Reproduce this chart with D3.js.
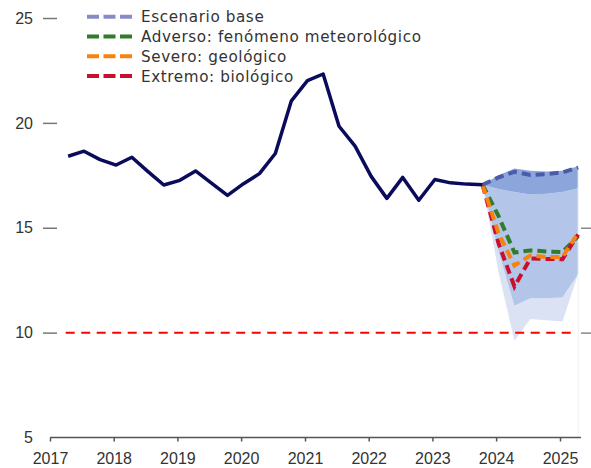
<!DOCTYPE html>
<html>
<head>
<meta charset="utf-8">
<script src="https://cdn.jsdelivr.net/npm/d3@7"></script>
<style>
  html, body { margin: 0; padding: 0; background: #fff; }
  svg { display: block; font-family: "Noto Sans", "DejaVu Sans", sans-serif; }
</style>
</head>
<body>
<svg id="chart" width="591" height="468"></svg>
<script>
// ---------- data ----------
const histDates = ["2017-04-15","2017-07-15","2017-10-15","2018-01-15","2018-04-15","2018-07-15","2018-10-15",
  "2019-01-15","2019-04-15","2019-07-15","2019-10-15","2020-01-15","2020-04-15","2020-07-15","2020-10-15",
  "2021-01-15","2021-04-15","2021-07-15","2021-10-15","2022-01-15","2022-04-15","2022-07-15","2022-10-15",
  "2023-01-15","2023-04-15","2023-07-15","2023-10-15"];
const histValues = [18.41,18.65,18.25,17.99,18.36,17.69,17.04,17.26,17.71,17.13,16.54,17.10,17.58,18.54,21.05,
  22.01,22.33,19.84,18.89,17.45,16.40,17.40,16.31,17.30,17.14,17.08,17.05];

const scenDates = ["2023-10-15","2024-01-15","2024-04-15","2024-07-15","2024-10-15","2025-01-15","2025-04-15"];
const baseValues     = [17.05,17.40,17.67,17.52,17.55,17.64,17.87];
const adversoValues  = [17.05,15.55,13.82,13.92,13.87,13.84,14.60];
const severoValues   = [17.05,14.73,13.20,13.68,13.60,13.60,14.75];
const extremoValues  = [17.05,14.25,12.20,13.53,13.51,13.50,14.68];

// fan bands (upper, lower)
const fanTop      = [17.05,17.50,17.82,17.72,17.68,17.72,17.93];
const fanDarkLow  = [17.05,16.85,16.70,16.59,16.62,16.71,16.88];
const fanMidLow   = [17.05,13.85,11.28,11.64,11.64,11.67,12.80];
const fanLightLow = [17.05,12.88,9.61,10.65,10.59,10.53,12.80];

const thresholdDates = ["2017-04-01","2025-03-10"];
const thresholdValues = [10,10];

const yTicks = [5,10,15,20,25];
const rightTicks = [10,15];
const xTickYears = ["2017","2018","2019","2020","2021","2022","2023","2024","2025"];

const seriesNames = ["Escenario base","Adverso: fenómeno meteorológico","Severo: geológico","Extremo: biológico"];

// ---------- setup ----------
const parse = d3.timeParse("%Y-%m-%d");
const svg = d3.select("#chart");

const x = d3.scaleTime()
  .domain([parse("2017-01-01"), parse("2025-01-01")])
  .range([50, 560]);
const y = d3.scaleLinear().domain([5, 25]).range([437.5, 18]);
const xAxisEnd = parse("2025-05-01");

const sd = scenDates.map(parse);

// fan areas
function band(upper, lower, fill) {
  const data = sd.map((d, i) => ({ d, u: upper[i], l: lower[i] }));
  svg.append("path")
    .datum(data)
    .attr("fill", fill)
    .attr("d", d3.area().x(p => x(p.d)).y0(p => y(p.l)).y1(p => y(p.u)));
}
band(fanMidLow, fanLightLow, "#dae2f3");
band(fanDarkLow, fanMidLow, "#b3c5e8");
band(fanTop, fanDarkLow, "#8ca6dc");

// faint vertical line at forecast end
svg.append("line")
  .attr("x1", x(sd[sd.length - 1])).attr("x2", x(sd[sd.length - 1]))
  .attr("y1", y(17.9)).attr("y2", y(5))
  .attr("stroke", "#eef0f4").attr("stroke-width", 1);

// threshold line
svg.append("path")
  .datum(thresholdDates.map((d, i) => ({ d: parse(d), v: thresholdValues[i] })))
  .attr("fill", "none")
  .attr("stroke", "#ff0000")
  .attr("stroke-width", 2)
  .attr("stroke-dasharray", "9,6.5")
  .attr("d", d3.line().x(p => x(p.d)).y(p => y(p.v)));

// axes
const yAxis = d3.axisLeft(y).tickValues(yTicks).tickSize(14).tickPadding(10);
const gy = svg.append("g").attr("transform", "translate(57,0)").call(yAxis);
gy.select(".domain").remove();
gy.selectAll(".tick line").attr("stroke", "#777").attr("stroke-width", 1.5)
  .filter(d => d === 5).remove();
gy.selectAll(".tick text").attr("fill", "#333").style("font-size", "16px");

const gr = svg.append("g").attr("transform", "translate(581,0)")
  .call(d3.axisRight(y).tickValues(rightTicks).tickSize(10).tickFormat(""));
gr.select(".domain").remove();
gr.selectAll(".tick line").attr("stroke", "#888").attr("stroke-width", 1.5);

const xAxis = d3.axisBottom(x)
  .tickValues(xTickYears.map(s => parse(s + "-01-01")))
  .tickFormat(d3.timeFormat("%Y"))
  .tickSize(4).tickSizeOuter(0).tickPadding(11);
const gx = svg.append("g").attr("transform", `translate(0,${y(5)})`).call(xAxis);
gx.select(".domain").remove();
gx.append("line").attr("x1", x.range()[0]).attr("x2", x(xAxisEnd))
  .attr("stroke", "#555").attr("stroke-width", 1.5);
gx.selectAll(".tick line").attr("stroke", "#555").attr("stroke-width", 1.5);
gx.selectAll(".tick text").attr("fill", "#333").style("font-size", "16px");

// scenario lines
const lineGen = d3.line().x(p => x(p.d)).y(p => y(p.v));
function scen(values, color) {
  svg.append("path")
    .datum(sd.map((d, i) => ({ d, v: values[i] })))
    .attr("fill", "none")
    .attr("stroke", color)
    .attr("stroke-width", 4)
    .attr("stroke-dasharray", "9,5")
    .attr("d", lineGen);
}
scen(adversoValues, "#2f7d2a");
scen(extremoValues, "#c8102e");
scen(severoValues, "#f7820f");
scen(baseValues, "#4b5ba8");

// historical line
svg.append("path")
  .datum(histDates.map((d, i) => ({ d: parse(d), v: histValues[i] })))
  .attr("fill", "none")
  .attr("stroke", "#0b0b5c")
  .attr("stroke-width", 3.5)
  .attr("stroke-linejoin", "round")
  .attr("d", lineGen);

// legend
const legendColors = ["#8a8ac6", "#2f7d2a", "#f7820f", "#c8102e"];
const lg = svg.append("g");
seriesNames.forEach((name, i) => {
  const cy = 16.7 + i * 19.8;
  lg.append("line").attr("x1", 87).attr("x2", 132).attr("y1", cy).attr("y2", cy)
    .attr("stroke", legendColors[i]).attr("stroke-width", 4).attr("stroke-dasharray", "12,4.5");
  lg.append("text").attr("x", 141).attr("y", cy).attr("dy", "0.36em")
    .attr("fill", "#333")
    .style("font-family", "'DejaVu Sans', sans-serif")
    .style("font-size", "15.2px")
    .style("letter-spacing", "0.6px")
    .text(name);
});
</script>
</body>
</html>
